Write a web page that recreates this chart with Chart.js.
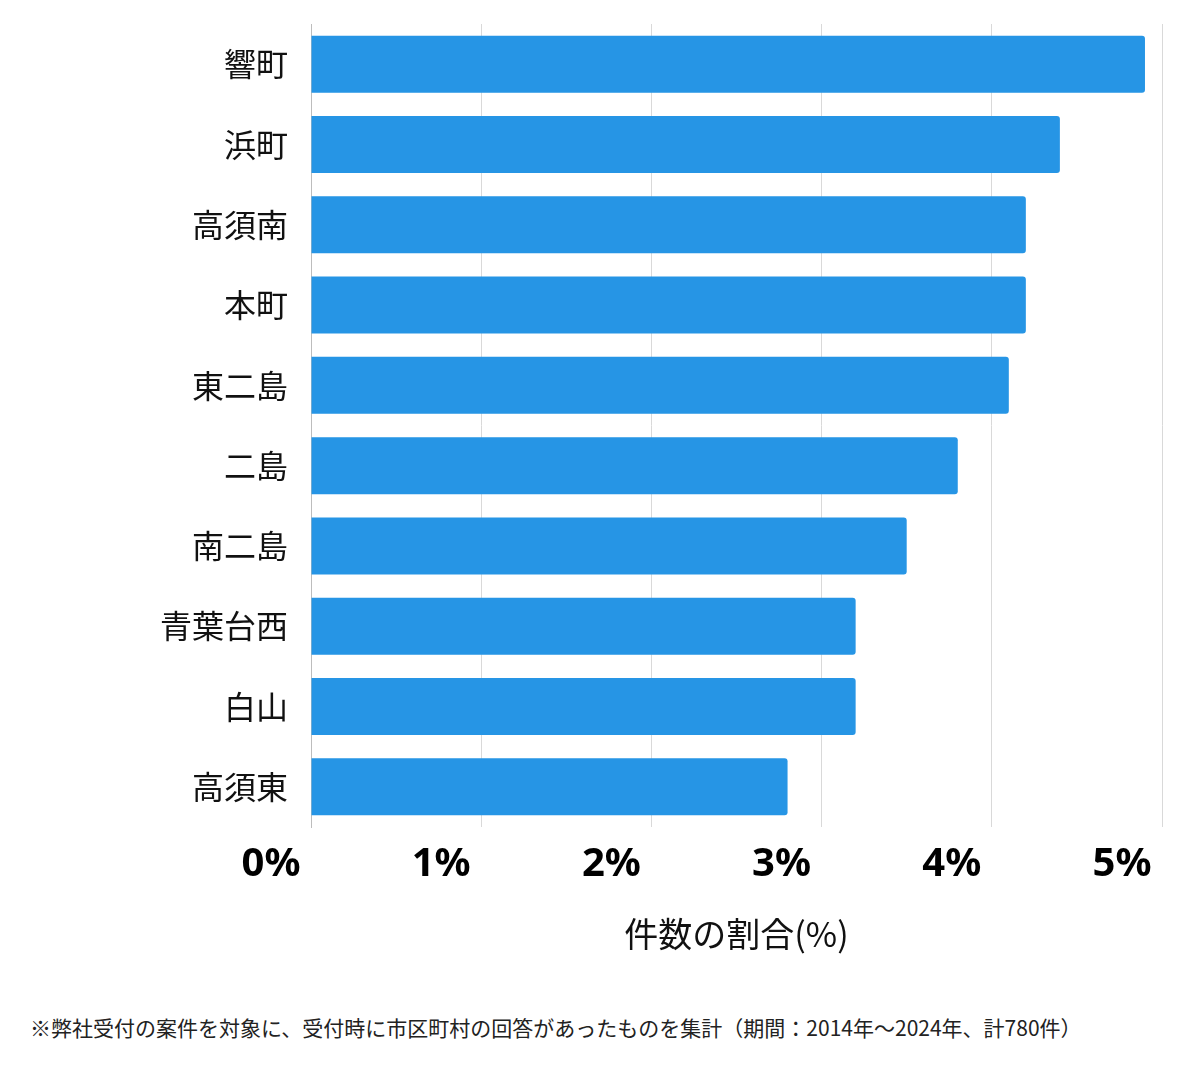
<!DOCTYPE html>
<html>
<head>
<meta charset="utf-8">
<script src="https://cdn.jsdelivr.net/npm/chart.js@4/dist/chart.umd.min.js"></script>
<style>
  body { margin: 0; background: #fff; }
  #wrap { position: relative; width: 1200px; height: 980px; }
  #note {
    position: absolute; left: 30px; top: 1012px;
    font-family: "Noto Sans CJK JP", sans-serif; font-size: 21px; color: #222;
    white-space: nowrap;
  }
</style>
</head>
<body>
<div id="wrap"><canvas id="myChart" width="1200" height="980"></canvas></div>
<div id="note">※弊社受付の案件を対象に、受付時に市区町村の回答があったものを集計（期間：2014年～2024年、計780件）</div>
<script>
// 地区ごとの件数割合 (%)
const areas = ["響町", "浜町", "高須南", "本町", "東二島", "二島", "南二島", "青葉台西", "白山", "高須東"];
const shares = [4.9, 4.4, 4.2, 4.2, 4.1, 3.8, 3.5, 3.2, 3.2, 2.8];
const xTicks = [0, 1, 2, 3, 4, 5];
const xTitle = "件数の割合(%)";

const jp = '"Noto Sans CJK JP", "Noto Sans", sans-serif';

const ctx = document.getElementById("myChart");
const myChart = new Chart(ctx, {
  type: "bar",
  data: {
    labels: areas,
    datasets: [
      {
        data: shares,
        backgroundColor: "#2695e5",
        borderRadius: { topRight: 3, bottomRight: 3 },
        borderSkipped: "start",
        categoryPercentage: 1,
        barPercentage: 0.71,
      },
    ],
  },
  options: {
    indexAxis: "y",
    responsive: false,
    animation: false,
    layout: { padding: { top: 24, right: 38, left: 0, bottom: 0 } },
    plugins: { legend: { display: false }, tooltip: { enabled: false } },
    scales: {
      x: {
        min: 0,
        max: 5,
        afterBuildTicks: (scale) => {
          scale.ticks = xTicks.map((v) => ({ value: v }));
        },
        afterFit: (scale) => {
          scale.height = 153;
          scale.paddingLeft = 0;
          scale.paddingRight = 0;
        },
        grid: { color: "#d9d9d9", drawTicks: false },
        border: { display: false },
        ticks: {
          padding: 14,
          labelOffset: -40,
          color: "#000",
          font: { family: '"Noto Sans", sans-serif', size: 40, weight: "bold" },
          callback: (v) => v + "%",
        },
        title: {
          display: true,
          text: xTitle,
          color: "#111",
          font: { family: jp, size: 34 },
          padding: { top: 0, bottom: 26 },
        },
      },
      y: {
        afterFit: (scale) => {
          scale.width = 311;
          scale.paddingTop = 0;
          scale.paddingBottom = 0;
        },
        grid: { display: false, drawTicks: false },
        border: { display: true, color: "#bdbdbd" },
        ticks: {
          padding: 23,
          color: "#111",
          font: { family: jp, size: 32 },
        },
      },
    },
  },
});
</script>
</body>
</html>
